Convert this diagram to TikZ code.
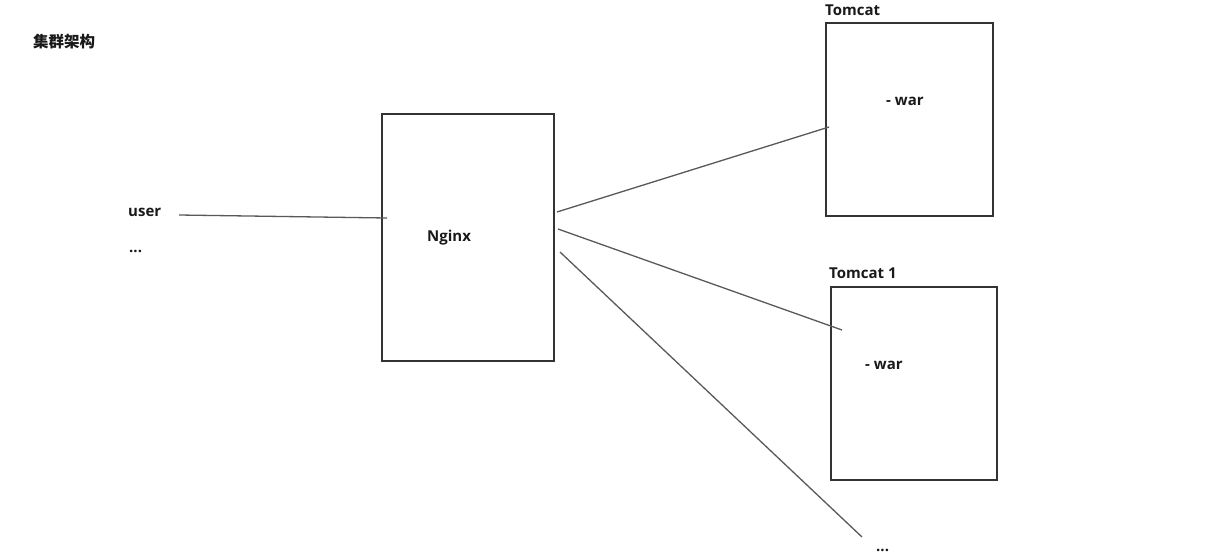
\documentclass[tikz,border=0pt]{standalone}
\usepackage{fontspec}
\setmainfont{Open Sans}
\newfontfamily\cjk{Noto Sans CJK SC}
\begin{document}
\begin{tikzpicture}[x=1pt,y=-1pt,
  box/.style={draw=black!80, line width=1.2pt},
  conn/.style={draw=black!65, line width=1.3pt},
  lbl/.style={anchor=base west, inner sep=0pt, font=\fontsize{15}{18}\selectfont\bfseries, text=black!90}]
\useasboundingbox (0,0) rectangle (1215,552);
\node[lbl, font=\fontsize{15.5}{18}\selectfont\cjk\bfseries] (title) at (33,47) {集群架构};
\draw[box] (382,114) rectangle (554,361);
\node[lbl] (nginx) at (427,241) {Nginx};
\draw[box] (826,23) rectangle (993,216);
\node[lbl] (t0) at (825,15) {Tomcat};
\node[lbl] (w0) at (886,105) {- war};
\draw[box] (831,287) rectangle (997,480);
\node[lbl] (t1) at (829,278) {Tomcat 1};
\node[lbl] (w1) at (865,369) {- war};
\node[lbl] (user) at (128,216) {user};
\node[lbl] (dots1) at (129,252) {...};
\node[lbl] (dots2) at (876,551.5) {...};
\coordinate (u1) at (179,215);
\coordinate (u2) at (387,218);
\coordinate (a1) at (557,212);
\coordinate (a2) at (829,127);
\coordinate (b1) at (558,229);
\coordinate (b2) at (842,330);
\coordinate (c1) at (560,252);
\coordinate (c2) at (862,537);
\draw[conn] (u1) -- (u2);
\draw[conn] (a1) -- (a2);
\draw[conn] (b1) -- (b2);
\draw[conn] (c1) -- (c2);
\end{tikzpicture}
\end{document}
